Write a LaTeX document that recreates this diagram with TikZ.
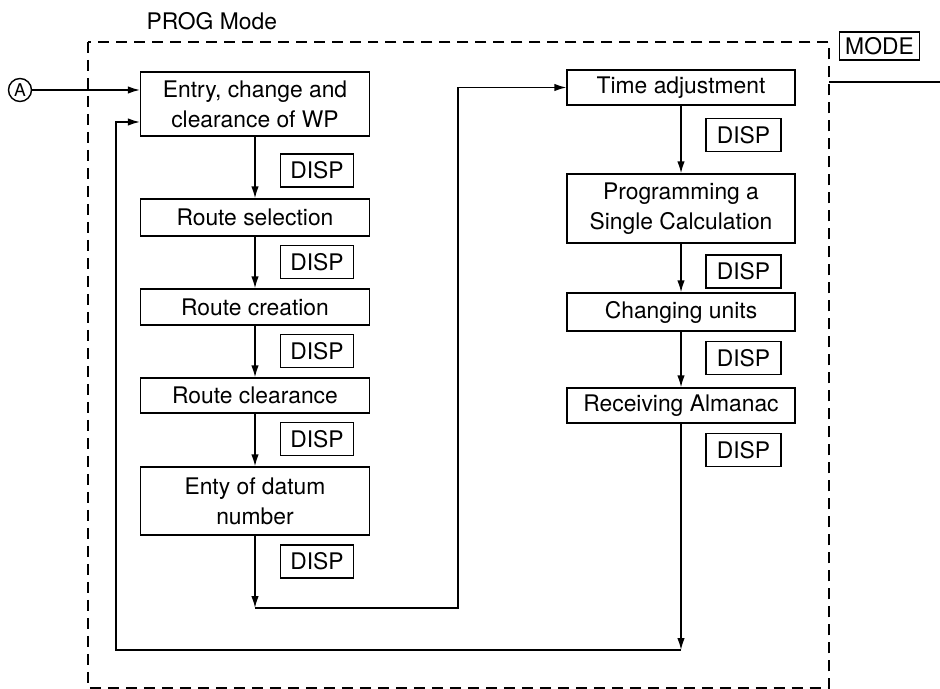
\documentclass[tikz,border=0pt]{standalone}
\usepackage{fontspec}
\setmainfont{TeX Gyre Heros}
\usetikzlibrary{arrows.meta}

\begin{document}
\begin{tikzpicture}[x=0.02cm,y=-0.02cm,line width=0.8pt,
    box/.style={draw, inner sep=0pt, minimum width=4.58cm, align=center,
      font=\fontsize{13}{17}\selectfont},
    key/.style={draw, inner sep=0pt, minimum width=1.46cm, minimum height=0.66cm,
      font=\fontsize{13}{15}\selectfont},
    arr/.style={-{Latex[length=2.4mm,width=1.5mm]}}]
    \useasboundingbox (0,0) rectangle (940,689);
    % mode frame
    \draw[dashed, dash pattern=on 0.22cm off 0.14cm] (88,42) rectangle (829,688);
    \node[anchor=west, font=\fontsize{13}{15}\selectfont] (prog) at (140,21) {PROG Mode};
    \node[key, minimum width=1.6cm, minimum height=0.56cm] (mode) at (879.5,46) {MODE};
    \coordinate (m1) at (829,82); \coordinate (m2) at (940,82);
    \draw (m1) -- (m2);
    % left column
    \node[draw, circle, inner sep=0pt, minimum size=0.46cm, font=\fontsize{10}{12}\selectfont] (A) at (20,90) {A};
    \node[box, minimum height=1.28cm] (entry) at (255,104) {Entry, change and\\clearance of WP};
    \node[box, minimum height=0.74cm] (rsel) at (255,217.5) {Route selection};
    \node[box, minimum height=0.72cm] (rcre) at (255,307) {Route creation};
    \node[box, minimum height=0.70cm] (rclr) at (255,395.5) {Route clearance};
    \node[box, minimum height=1.36cm] (datum) at (255,501) {Enty of datum\\number};
    \node[key] (d1) at (317,170.5) {DISP};
    \node[key] (d2) at (317,262) {DISP};
    \node[key] (d3) at (317,351) {DISP};
    \node[key] (d4) at (317,439) {DISP};
    \node[key] (d5) at (317,561.5) {DISP};
    % right column
    \node[box, minimum width=4.56cm, minimum height=0.70cm] (time) at (681,87.5) {Time adjustment};
    \node[box, minimum width=4.56cm, minimum height=1.38cm] (calc) at (681,208.5) {Programming a\\Single Calculation};
    \node[box, minimum width=4.56cm, minimum height=0.76cm] (units) at (681,312) {Changing units};
    \node[box, minimum width=4.56cm, minimum height=0.70cm] (alm) at (681,405.5) {Receiving Almanac};
    \node[key, minimum width=1.5cm] (r1) at (743.5,135) {DISP};
    \node[key, minimum width=1.5cm] (r2) at (743.5,271.5) {DISP};
    \node[key, minimum width=1.5cm] (r3) at (743.5,358) {DISP};
    \node[key, minimum width=1.5cm] (r4) at (743.5,450) {DISP};
    % connectors
    \draw[arr] (A) -- (A.east -| entry.west);
    \draw[arr] (entry) -- (rsel); \draw[arr] (rsel) -- (rcre);
    \draw[arr] (rcre) -- (rclr); \draw[arr] (rclr) -- (datum);
    \draw[arr] (time) -- (calc); \draw[arr] (calc) -- (units);
    \draw[arr] (units) -- (alm);
    \coordinate (c1) at (255,608); \coordinate (c2) at (458,608);
    \draw[arr] (datum) -- (c1);
    \draw[arr] (c1) -- (c2) |- (time.west);
    \coordinate (b1) at (681,650); \coordinate (b2) at (116,650);
    \coordinate (b3) at (116,122);
    \draw[arr] (alm) -- (b1);
    \draw[arr] (b1) -- (b2) -- (b3) -- (b3 -| entry.west);
  \end{tikzpicture}
\end{document}
